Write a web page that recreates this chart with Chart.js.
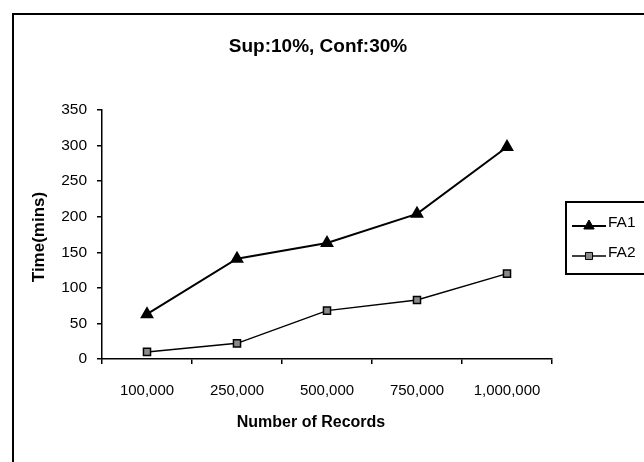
<!DOCTYPE html>
<html lang="en">
<head>
    <meta charset="UTF-8">
    <title>Sup:10%, Conf:30%</title>
    <script src="https://cdn.jsdelivr.net/npm/chart.js"></script>
    <style>
        html, body { margin: 0; padding: 0; background: #fff; }
        #wrap { width: 644px; height: 462px; }
    </style>
</head>
<body>
    <div id="wrap"><canvas id="grafico" width="644" height="462"></canvas></div>

    <script>
        // data
        const categories = ['100,000', '250,000', '500,000', '750,000', '1,000,000'];
        const fa1 = [63, 141, 163, 204, 298];
        const fa2 = [10, 22, 68, 83, 120];
        const seriesNames = ['FA1', 'FA2'];

        const chartTitle = 'Sup:10%, Conf:30%';
        const xTitle = 'Number of Records';
        const yTitle = 'Time(mins)';

        const FONT = "'Liberation Sans', Arial, sans-serif";

        // titles, frame and legend drawn by hand (Excel style)
        const extras = {
            id: 'extras',
            beforeDraw(chart) {
                const ctx = chart.ctx;
                ctx.save();
                ctx.fillStyle = '#fff';
                ctx.fillRect(0, 0, chart.width, chart.height);
                ctx.strokeStyle = '#000';
                ctx.lineWidth = 2;
                ctx.strokeRect(13, 14, 700, 520);
                ctx.restore();
            },
            afterDraw(chart) {
                const ctx = chart.ctx;
                ctx.save();
                ctx.fillStyle = '#000';
                ctx.textAlign = 'center';
                ctx.textBaseline = 'middle';

                ctx.font = 'bold 19px ' + FONT;
                ctx.fillText(chartTitle, 318, 47);

                ctx.font = 'bold 16px ' + FONT;
                ctx.fillText(xTitle, 311, 423);

                ctx.font = 'bold 17px ' + FONT;
                ctx.translate(39, 237);
                ctx.rotate(-Math.PI / 2);
                ctx.fillText(yTitle, 0, 0);
                ctx.restore();

                // legend
                ctx.save();
                ctx.strokeStyle = '#000';
                ctx.lineWidth = 2;
                ctx.strokeRect(566, 202, 120, 72);
                chart.data.datasets.forEach((ds, i) => {
                    const y = 226 + i * 30;
                    ctx.strokeStyle = ds.borderColor;
                    ctx.lineWidth = ds.borderWidth;
                    ctx.beginPath();
                    ctx.moveTo(572, y);
                    ctx.lineTo(606, y);
                    ctx.stroke();
                    ctx.fillStyle = ds.pointBackgroundColor;
                    ctx.strokeStyle = ds.pointBorderColor;
                    ctx.lineWidth = 1;
                    Chart.helpers.drawPoint(ctx, {
                        pointStyle: ds.pointStyle,
                        radius: ds.pointRadius,
                        rotation: 0,
                        borderWidth: 1
                    }, 589, y);
                    ctx.fillStyle = '#000';
                    ctx.font = '15.5px ' + FONT;
                    ctx.textAlign = 'left';
                    ctx.textBaseline = 'middle';
                    ctx.fillText(ds.label, 608, y - 3);
                });
                ctx.restore();
            }
        };

        const ctx = document.getElementById('grafico').getContext('2d');
        const chart = new Chart(ctx, {
            type: 'line',
            data: {
                labels: categories,
                datasets: [{
                    label: seriesNames[0],
                    data: fa1,
                    borderColor: '#000',
                    borderWidth: 2,
                    pointStyle: 'triangle',
                    pointRadius: 6,
                    pointBackgroundColor: '#000',
                    pointBorderColor: '#000',
                    tension: 0,
                    fill: false
                }, {
                    label: seriesNames[1],
                    data: fa2,
                    borderColor: '#000',
                    borderWidth: 1.5,
                    pointStyle: 'rect',
                    pointRadius: 5,
                    pointBackgroundColor: '#8a8a8a',
                    pointBorderColor: '#000',
                    tension: 0,
                    fill: false
                }]
            },
            options: {
                responsive: false,
                animation: false,
                layout: {
                    padding: { top: 110, left: 12, right: 92, bottom: 0 }
                },
                plugins: {
                    legend: { display: false },
                    title: { display: false },
                    tooltip: { enabled: false }
                },
                scales: {
                    x: {
                        type: 'category',
                        offset: true,
                        afterFit: s => { s.height = 103; },
                        grid: {
                            offset: true,
                            drawOnChartArea: false,
                            drawTicks: true,
                            tickLength: 5,
                            color: '#000',
                            lineWidth: 1.5
                        },
                        border: { color: '#000', width: 1.5 },
                        ticks: {
                            color: '#000',
                            padding: 18,
                            maxRotation: 0,
                            autoSkip: false,
                            font: { family: FONT, size: 15 }
                        }
                    },
                    y: {
                        min: 0,
                        max: 350,
                        afterFit: s => { s.width = 90; },
                        grid: {
                            drawOnChartArea: false,
                            drawTicks: true,
                            tickLength: 5,
                            color: '#000',
                            lineWidth: 1.5
                        },
                        border: { color: '#000', width: 1.5 },
                        ticks: {
                            stepSize: 50,
                            color: '#000',
                            padding: 10,
                            font: { family: FONT, size: 15.5 }
                        }
                    }
                }
            },
            plugins: [extras]
        });
    </script>
</body>
</html>
